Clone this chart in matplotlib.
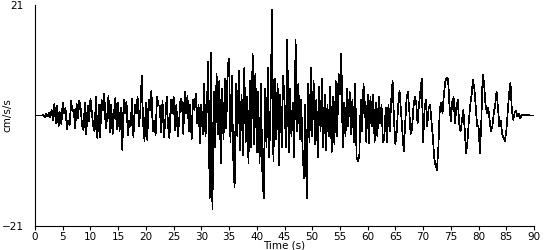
import numpy as np
import matplotlib
matplotlib.use("Agg")
import matplotlib.pyplot as plt

# acceleration samples (cm/s/s), one every 0.25 s
dt = 0.25
acc_00_05 = [0, 0, 0, 0, 0, 0, 0.2, -0.3, 0.4, -0.2, 0.5, -0.4, 1.0, -0.8, 2.3, -1.5, 1.8, -2.0, 0.6, -1.6]
acc_05_10 = [2.4, 0.5, 1.5, -2.6, -1.0, -1.8, 2.7, 0.8, 1.0, -2.5, 2.2, -0.5, 2.8, 1.2, -2.0, -2.8, 2.4, -3.6, 1.8, -1.0]
acc_10_15 = [3.2, 0.5, -2.0, -3.0, 3.6, -4.4, 2.0, -4.2, 3.0, 1.0, 4.2, -2.5, -0.5, 3.8, -3.2, 2.0, -3.5, 0.5, 3.4, -2.6]
acc_15_20 = [2.5, -3.0, 1.5, -6.5, 3.0, 0.5, 2.6, -3.8, -1.0, -2.0, 3.2, -4.2, 2.0, 0.5, 3.5, -2.0, 1.0, 7.6, -1.5, -4.8]
acc_20_25 = [2.5, -4.6, 3.0, 1.0, 4.7, -3.0, -1.0, -3.8, 3.5, 2.0, 1.8, -3.2, 2.8, -4.2, -1.0, 3.6, -2.0, -4.4, 3.0, 0.5]
acc_25_30 = [3.6, -2.8, 2.0, -4.0, -1.0, 3.2, 2.6, -3.5, 4.5, 0.5, 3.8, -3.0, 2.0, -4.5, 3.0, 1.0, 4.2, -1.5, 2.0, -5.3]
acc_30_35 = [2.0, -3.5, 6.0, -4.0, 1.5, 10.3, -15.8, 12.0, -17.9, 4.5, -6.0, 8.0, -3.5, 6.5, -9.0, 5.0, -4.5, 7.0, -2.5, 9.5]
acc_35_40 = [10.8, -5.0, 7.5, -8.0, -13.7, 6.0, -4.0, 8.5, -6.5, 4.0, -7.5, 9.0, -5.0, 3.5, -9.0, 6.5, -6.0, 11.8, -5.5, 8.0]
acc_40_45 = [-7.0, 4.5, -9.0, 6.0, -10.5, -15.8, 5.0, -6.0, 9.0, -8.0, 3.0, 20.0, -8.7, 7.0, -4.5, 6.0, -9.5, 4.0, -6.0, 7.5]
acc_45_50 = [3.0, -6.0, 14.4, -7.0, 5.0, -4.0, 2.5, -8.0, 14.4, -3.0, 6.0, -4.5, 3.0, -6.0, -12.0, 2.0, -15.8, 6.0, -5.0, 9.0]
acc_50_55 = [-4.0, 6.5, -5.5, 3.0, -8.0, 5.5, -3.0, 7.0, -6.0, 4.0, -6.5, 2.0, -4.0, 5.5, -7.0, 3.5, -5.5, 6.5, -4.0, 8.0]
acc_55_60 = [4.0, 11.8, -6.0, 2.5, -4.0, 5.0, -2.0, 4.5, -3.5, 3.0, -5.0, 6.0, -8.0, -8.7, -7.5, 3.0, -3.0, 6.0, 2.0, -5.0]
acc_60_65 = [4.0, -5.3, 3.5, -2.0, 4.0, -5.0, 2.5, -4.0, 3.5, -1.5, 2.0, -5.0, -4.5, 1.5, -5.0, 2.0, -3.0, 3.0, 6.5, -1.0]
acc_65_70 = [-5.5, -3.0, 2.0, 4.7, 1.0, -3.0, -6.8, -2.0, 3.0, 4.5, 1.0, -3.5, -2.5, 1.5, 3.5, 2.5, -1.5, 2.0, 4.5, 7.0]
acc_70_75 = [-5.0, 1.0, 3.0, -2.0, 1.5, 2.0, -1.0, -4.0, -8.0, -9.5, -10.3, -6.0, 1.0, 2.5, 0.5, 4.0, 6.5, 7.2, 7.0, 2.0]
acc_75_80 = [-1.0, 2.5, 3.5, -1.5, 1.5, 3.0, -1.5, -3.0, -1.0, 1.0, -2.5, -7.2, -5.0, -1.0, 2.0, 4.0, 6.8, 5.0, 1.5, -2.0]
acc_80_85 = [-2.0, -7.2, -1.0, 7.8, 6.0, 2.0, 0.5, 1.5, -1.0, -3.0, -2.0, 0.5, 2.0, 4.5, 1.5, -2.0, -1.0, -3.5, -4.2, -4.8]
acc_85_90 = [-3.0, 0.5, 4.0, 6.3, 1.0, -0.8, 0.5, 0.8, -0.2, 0.3, -0.5, 0.0, 0.2, 0.1, 0.2, 0.0, 0.1, 0.0, 0.0, 0.0, 0.0]

acc = np.array(acc_00_05 + acc_05_10 + acc_10_15 + acc_15_20 + acc_20_25 + acc_25_30
               + acc_30_35 + acc_35_40 + acc_40_45 + acc_45_50 + acc_50_55 + acc_55_60
               + acc_60_65 + acc_65_70 + acc_70_75 + acc_75_80 + acc_80_85 + acc_85_90)
t = np.arange(len(acc)) * dt

fig = plt.figure(figsize=(5.5, 2.5), dpi=100)
ax = fig.add_axes([35/550., 24/250., 499/550., 221/250.])
ax.plot(t, acc, color='k', linewidth=0.5, antialiased=False)

ax.set_xlim(0, 90)
ax.set_ylim(-21, 21)
ax.set_xticks(np.arange(0, 91, 5))
ax.set_yticks([-21, 21])
ax.tick_params(axis='x', direction='out', length=3, width=0.8, labelsize=7.5, pad=1)
ax.tick_params(axis='y', length=0, labelsize=7.5, pad=8)
for s in ['top', 'right']:
	ax.spines[s].set_visible(False)
for s in ['left', 'bottom']:
	ax.spines[s].set_linewidth(0.8)

ax.set_xlabel("Time (s)", fontsize=7.5, labelpad=-1)
ax.set_ylabel("cm/s/s", fontsize=7.5, labelpad=2)
ax.yaxis.set_label_coords(-0.045, 0.5)

fig.savefig("out.png", dpi=100)
